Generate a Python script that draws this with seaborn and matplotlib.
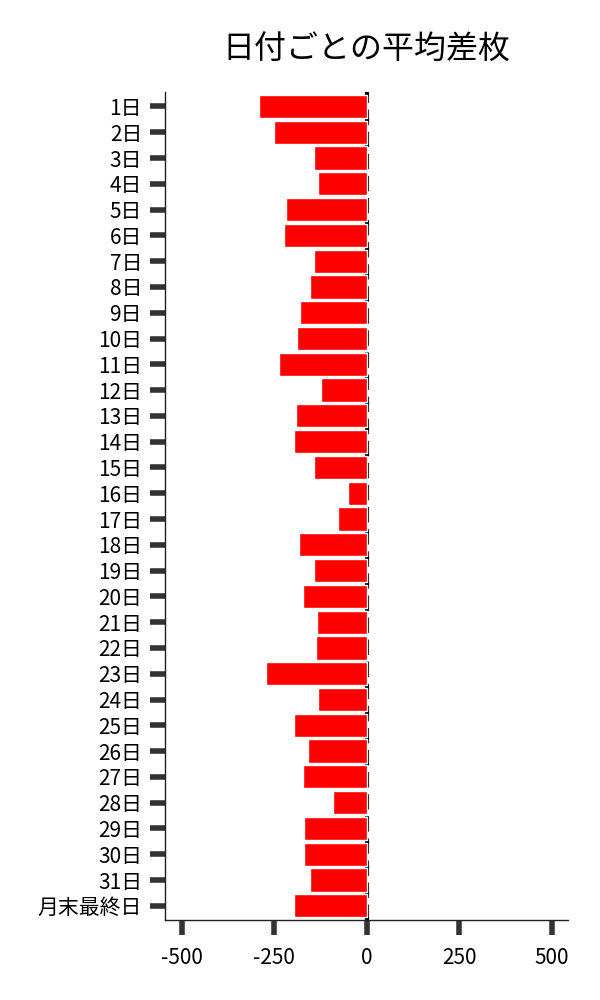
import numpy as np
import pandas as pd
import matplotlib
matplotlib.use('Agg')
import matplotlib.pyplot as plt
import seaborn as sns

sns.set_style('white')
plt.rcParams['font.family'] = ['Noto Sans CJK JP', 'DejaVu Sans']
plt.rcParams['axes.unicode_minus'] = False

# day labels and mean difference per day
days = [f'{i}日' for i in range(1, 32)] + ['月末最終日']
mean_diff = [-292, -249, -141, -132, -219, -222, -141, -154, -181, -189,
             -238, -122, -192, -197, -141, -51, -78, -184, -141, -173,
             -135, -138, -273, -132, -197, -159, -173, -92, -168, -170,
             -154, -195]

df = pd.DataFrame({'day': days, 'diff': mean_diff})

fig = plt.figure(figsize=(6, 10), dpi=100)
ax = fig.add_axes([0.275, 0.08, 0.672, 0.828])

ax.axvline(0, color='black', linestyle='--', linewidth=3, zorder=0)
sns.barplot(x='diff', y='day', data=df, orient='h', color='red',
            saturation=1, width=0.9, ax=ax, zorder=2)

ax.set_xlim(-545, 545)
ax.set_ylim(len(days) - 0.45, -0.56)
ax.set_xticks([-500, -250, 0, 250, 500])
ax.set_xlabel('')
ax.set_ylabel('')
ax.set_title('日付ごとの平均差枚', fontsize=23, pad=24, color='black')

ax.tick_params(axis='both', bottom=True, left=True, length=10.5, width=4,
               color='#333333', labelsize=15, labelcolor='black')
ax.tick_params(axis='y', pad=6)
ax.tick_params(axis='x', pad=9)
sns.despine(ax=ax)
for s in ['left', 'bottom']:
    ax.spines[s].set_color('#222222')
    ax.spines[s].set_linewidth(1)

plt.savefig('out.png')
